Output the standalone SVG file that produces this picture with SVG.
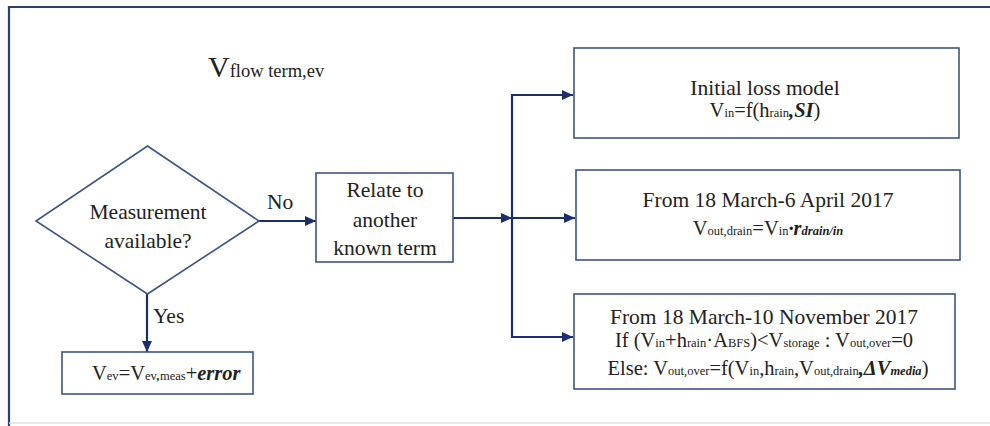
<svg xmlns="http://www.w3.org/2000/svg" width="990" height="426" viewBox="0 0 990 426">
<defs>
<marker id="ah" markerUnits="userSpaceOnUse" markerWidth="12" markerHeight="11" refX="11" refY="5" orient="auto">
<path d="M0,0 L11,5 L0,10 z" fill="#1B2F6E"/>
</marker>
<style>
text{font-family:"Liberation Serif","Times New Roman",serif;fill:#222;font-size:21.5px}
.c{text-anchor:middle}
.s{font-size:12.5px}
.f{font-size:20.5px}
.bi{font-weight:bold;font-style:italic}
.box{fill:#fff;stroke:#3A5585;stroke-width:1.6}
.con{stroke:#1B2F6E;stroke-width:2.2;fill:none}
</style>
</defs>
<rect width="990" height="426" fill="#fff"/>
<g id="frame">
<path d="M9,426 L9,7 L990,7" fill="none" stroke="#2B4070" stroke-width="2.2"/>
<line x1="9" y1="423" x2="990" y2="423" stroke="#DCE0E6" stroke-width="1.5"/>
</g>
<g id="title">
<text x="208" y="77"><tspan font-size="30">V</tspan><tspan font-size="18.5">flow term,ev</tspan></text>
</g>
<g id="connectors">
<line class="con" x1="259" y1="221" x2="316" y2="221" marker-end="url(#ah)"/>
<line class="con" x1="147" y1="294" x2="147" y2="352" marker-end="url(#ah)"/>
<line class="con" x1="453" y1="218" x2="512" y2="218" marker-end="url(#ah)"/>
<line class="con" x1="512" y1="94" x2="512" y2="338"/>
<line class="con" x1="511" y1="95" x2="573" y2="95" marker-end="url(#ah)"/>
<line class="con" x1="512" y1="218" x2="575" y2="218" marker-end="url(#ah)"/>
<line class="con" x1="511" y1="337" x2="573" y2="337" marker-end="url(#ah)"/>
</g>
<g id="decision">
<polygon class="box" points="147.5,146 259,221 147.5,294 36,221"/>
<text class="c" x="148" y="219">Measurement</text>
<text class="c" x="148" y="248">available?</text>
</g>
<g id="label-no"><text x="267" y="209">No</text></g>
<g id="label-yes"><text x="153" y="323">Yes</text></g>
<g id="relate">
<rect class="box" x="316" y="173" width="137" height="89"/>
<text class="c" x="385" y="197">Relate to</text>
<text class="c" x="385" y="227">another</text>
<text class="c" x="385" y="255">known term</text>
</g>
<g id="measured">
<rect class="box" x="62" y="352" width="191" height="42"/>
<text class="f" x="92" y="380">V<tspan class="s">ev</tspan>=V<tspan class="s">ev</tspan><tspan class="s bi">,</tspan><tspan class="s">meas</tspan>+<tspan class="bi">error</tspan></text>
</g>
<g id="initial-loss">
<rect class="box" x="574" y="48" width="385" height="90"/>
<text class="c" x="765" y="95">Initial loss model</text>
<text class="c f" x="765" y="117">V<tspan class="s">in</tspan>=f(h<tspan class="s">rain</tspan><tspan class="bi">,SI</tspan>)</text>
</g>
<g id="drain">
<rect class="box" x="576" y="170" width="384" height="90"/>
<text class="c" x="768" y="207">From 18 March-6 April 2017</text>
<text class="c f" x="768" y="235">V<tspan class="s">out,drain</tspan>=V<tspan class="s">in</tspan><tspan class="bi">·r</tspan><tspan class="s bi">drain/in</tspan></text>
</g>
<g id="overflow">
<rect class="box" x="574" y="294" width="381" height="95"/>
<text class="c" x="764" y="324">From 18 March-10 November 2017</text>
<text class="c f" x="764" y="347">If (V<tspan class="s">in</tspan>+h<tspan class="s">rain</tspan>·A<tspan class="s">BFS</tspan>)&lt;V<tspan class="s">storage</tspan> : V<tspan class="s">out,over</tspan>=0</text>
<text class="c f" x="768" y="375">Else: V<tspan class="s">out,over</tspan>=f(V<tspan class="s">in</tspan>,h<tspan class="s">rain</tspan>,V<tspan class="s">out,drain</tspan><tspan class="bi">,ΔV</tspan><tspan class="s bi">media</tspan>)</text>
</g>
</svg>
